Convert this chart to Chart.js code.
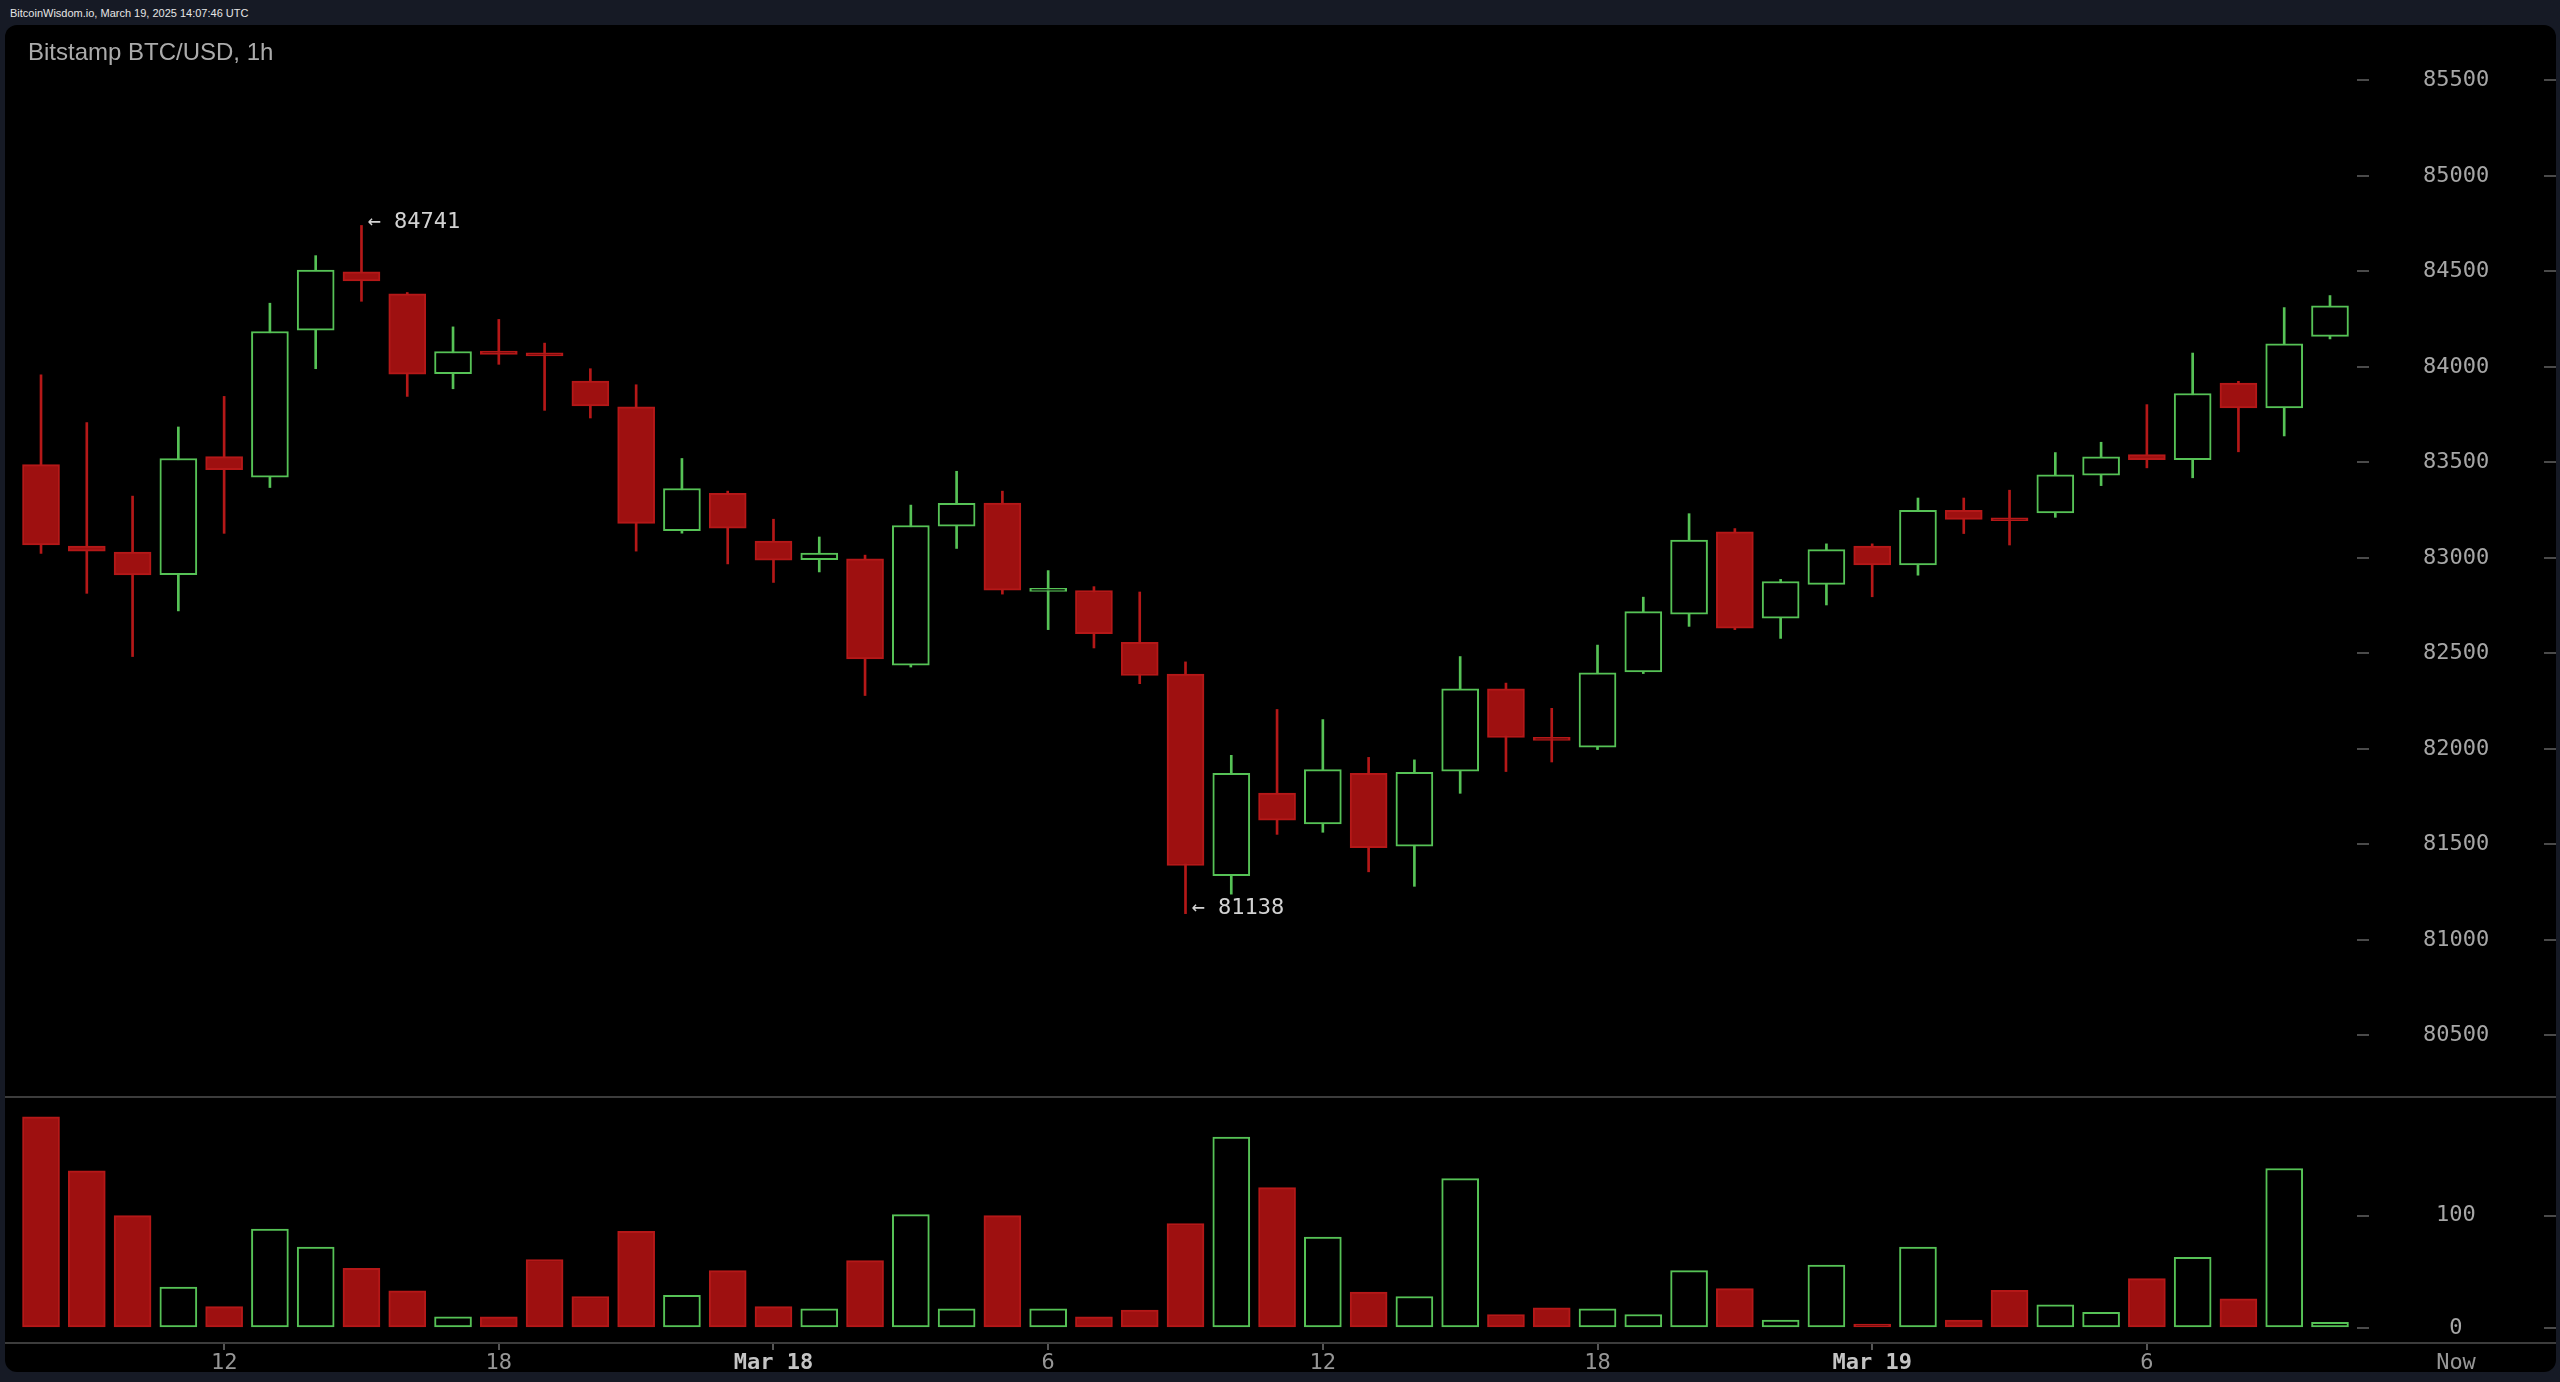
<!DOCTYPE html>
<html>
<head>
<meta charset="utf-8">
<title>Bitstamp BTC/USD, 1h</title>
<script src="https://cdn.jsdelivr.net/npm/chart.js@4/dist/chart.umd.min.js"></script>
<style>
  html, body { margin: 0; padding: 0; background: #161a25; }
  body { width: 2560px; height: 1382px; position: relative; overflow: hidden; }
  #stamp { position: absolute; left: 10px; top: 8px; font: 11px/11px "Liberation Sans", Arial, sans-serif; color: #e6e6e6; }
  #panel { position: absolute; left: 5px; top: 25px; width: 2551px; height: 1347px; background: #000; border-radius: 12px; overflow: hidden; }
  #title { position: absolute; left: 23px; top: 15px; font: 24px/24px "Liberation Sans", Arial, sans-serif; color: #ababab; }
  canvas { position: absolute; left: 0; top: 0; }
</style>
</head>
<body>
<div id="stamp">BitcoinWisdom.io, March 19, 2025 14:07:46 UTC</div>
<div id="panel">
  <canvas id="chart" width="2551" height="1347"></canvas>
  <div id="title">Bitstamp BTC/USD, 1h</div>
</div>
<script>
// hourly candles, index 0 = Mar 17 08:00 ... index 50 = Mar 19 10:00
const opens  = [83489, 83063, 83031, 82913, 83531, 83423, 84193, 84498, 84383, 83965,
                84083, 84064, 83926, 83791, 83143, 83339, 83088, 82991, 82995, 82439,
                83167, 83288, 82825, 82830, 82559, 82392, 81337, 81769, 81608, 81872,
                81491, 81884, 82315, 82060, 82010, 82404, 82706, 83137, 82685, 82862,
                83063, 82964, 83249, 83205, 83236, 83433, 83541, 83515, 83916, 83786,
                84160];
const highs  = [83959, 83709, 83324, 83686, 83846, 84334, 84583, 84741, 84390, 84210,
                84249, 84125, 83991, 83907, 83521, 83350, 83203, 83110, 83015, 83277,
                83454, 83350, 82934, 82850, 82822, 82456, 81967, 82207, 82154, 81956,
                81943, 82484, 82345, 82213, 82544, 82795, 83232, 83154, 82888, 83074,
                83074, 83314, 83314, 83355, 83552, 83606, 83803, 84073, 83925, 84311,
                84374];
const lows   = [83024, 82815, 82484, 82723, 83129, 83369, 83991, 84344, 83846, 83886,
                84014, 83773, 83733, 83036, 83130, 82969, 82872, 82927, 82280, 82429,
                83050, 82811, 82625, 82529, 82342, 81138, 81240, 81553, 81564, 81357,
                81281, 81768, 81882, 81932, 81997, 82395, 82642, 82625, 82579, 82754,
                82797, 82910, 83128, 83068, 83213, 83379, 83472, 83420, 83556, 83639,
                84147];
const closes = [83068, 83036, 82911, 83521, 83463, 84186, 84508, 84451, 83963, 84081,
                84066, 84058, 83796, 83181, 83364, 83156, 82989, 83026, 82471, 83170,
                83286, 82832, 82838, 82604, 82385, 81390, 81872, 81628, 81892, 81483,
                81878, 82315, 82060, 82045, 82399, 82719, 83094, 82633, 82877, 83044,
                82964, 83249, 83202, 83195, 83435, 83530, 83515, 83861, 83786, 84121,
                84320];
const volumes = [188, 140, 100, 36.5, 19, 88, 72, 53, 33, 10,
                 10, 61, 28, 86, 29, 51, 19, 17, 60, 101,
                 17, 100, 17, 10, 16, 93, 170, 125, 81, 32,
                 28, 133, 12, 18, 17, 12, 51, 35, 7, 56,
                 3.5, 72, 7, 33.5, 20.6, 14, 44, 63, 26, 142,
                 5];

const xTickPos  = [4, 10, 16, 22, 28, 34, 40, 46];
const xTickText = ['12', '18', 'Mar 18', '6', '12', '18', 'Mar 19', '6'];
const priceTicks = [80500, 81000, 81500, 82000, 82500, 83000, 83500, 84000, 84500, 85000, 85500];
const volTicks = [0, 100];

const GREEN = '#56c256';
const RED = '#9e1010';
const RED_EDGE = '#b51818';
const MONO = '"DejaVu Sans Mono", monospace';
const AXIS_GRAY = '#a6a6a6';

const up = closes.map((c, i) => c >= opens[i]);
const idx = closes.map((c, i) => i);

const wickData = idx.map(i => ({x: i, y: [lows[i], highs[i]]}));
const bodyData = idx.map(i => ({x: i, y: [opens[i], closes[i]]}));
const volData = idx.map(i => ({x: i, y: volumes[i]}));

const fillCol = up.map(u => u ? '#000000' : RED);
const edgeCol = up.map(u => u ? GREEN : RED_EDGE);
const wickCol = up.map(u => u ? GREEN : RED_EDGE);

// right axes: fixed width, and don't let the big label padding push the plot area in
function fitRightAxis(s) {
    s.width = 199;
    s.paddingTop = 0;
    s.paddingBottom = 0;
}

// lines across the whole panel, right edge dashes, "Now", hi/lo marks
const decor = {
    id: 'decor',
    afterDraw(chart) {
        const {ctx, width} = chart;
        const {x, y, yv} = chart.scales;
        ctx.save();

        ctx.strokeStyle = '#3c3c3c';
        ctx.lineWidth = 2;
        [yv.top, x.top].forEach(py => {
            ctx.beginPath();
            ctx.moveTo(0, py);
            ctx.lineTo(width, py);
            ctx.stroke();
        });

        ctx.strokeStyle = '#4a4a4a';
        [[y, priceTicks], [yv, volTicks]].forEach(([s, vals]) => {
            vals.forEach(v => {
                const py = Math.round(s.getPixelForValue(v));
                ctx.beginPath();
                ctx.moveTo(width - 12, py);
                ctx.lineTo(width, py);
                ctx.stroke();
            });
        });

        ctx.font = '22px ' + MONO;
        ctx.fillStyle = '#969696';
        ctx.textAlign = 'center';
        ctx.textBaseline = 'middle';
        ctx.fillText('Now', y.left + 99, x.top + 7 + 13.2);

        const hi = Math.max(...highs);
        const lo = Math.min(...lows);
        const hiIdx = highs.indexOf(hi);
        const loIdx = lows.indexOf(lo);
        ctx.fillStyle = '#d2d2d2';
        ctx.textAlign = 'left';
        ctx.fillText('\u2190 ' + hi, x.getPixelForValue(hiIdx) + 6, y.getPixelForValue(hi) - 3);
        ctx.fillText('\u2190 ' + lo, x.getPixelForValue(loIdx) + 6, y.getPixelForValue(lo) - 5);
        ctx.restore();
    }
};

new Chart(document.getElementById('chart'), {
    type: 'bar',
    data: {
        datasets: [
            {
                label: 'wick',
                data: wickData,
                yAxisID: 'y',
                backgroundColor: wickCol,
                borderWidth: 0,
                barThickness: 2,
                grouped: false,
                order: 3
            },
            {
                label: 'body',
                data: bodyData,
                yAxisID: 'y',
                backgroundColor: fillCol,
                borderColor: edgeCol,
                borderWidth: 2,
                borderSkipped: false,
                barThickness: 37,
                minBarLength: 3,
                grouped: false,
                order: 2
            },
            {
                label: 'volume',
                data: volData,
                yAxisID: 'yv',
                backgroundColor: fillCol,
                borderColor: edgeCol,
                borderWidth: 2,
                borderSkipped: false,
                barThickness: 37,
                grouped: false,
                order: 1
            }
        ]
    },
    options: {
        responsive: false,
        animation: false,
        devicePixelRatio: 1,
        layout: { padding: { left: 2, top: 15, right: 0, bottom: 0 } },
        plugins: { legend: { display: false }, tooltip: { enabled: false } },
        scales: {
            x: {
                type: 'linear',
                position: 'bottom',
                min: -0.743,
                max: 50.59,
                offset: false,
                grid: { offset: false, drawOnChartArea: false, drawTicks: true, tickLength: 7, color: '#555', lineWidth: 2 },
                border: { display: false },
                afterBuildTicks: s => { s.ticks = xTickPos.map(v => ({value: v})); },
                afterFit: s => { s.height = 29; },
                ticks: {
                    autoSkip: false,
                    maxRotation: 0,
                    padding: 0,
                    callback: (v, i) => xTickText[i],
                    color: c => (c.tick && String(c.tick.label).startsWith('Mar')) ? '#c4c4c4' : '#969696',
                    font: c => ({ family: MONO, size: 22, weight: (c.tick && String(c.tick.label).startsWith('Mar')) ? 'bold' : 'normal' })
                }
            },
            y: {
                type: 'linear',
                position: 'right',
                stack: 'panes',
                stackWeight: 1057,
                min: 80178,
                max: 85712,
                grid: { drawOnChartArea: false, drawTicks: true, tickLength: 12, color: '#4a4a4a', lineWidth: 2 },
                border: { display: false },
                afterBuildTicks: s => { s.ticks = priceTicks.map(v => ({value: v})); },
                afterFit: fitRightAxis,
                ticks: {
                    padding: 54,
                    crossAlign: 'center',
                    color: AXIS_GRAY,
                    font: { family: MONO, size: 22 },
                    callback: v => String(v)
                }
            },
            yv: {
                type: 'linear',
                position: 'right',
                stack: 'panes',
                stackWeight: 246,
                min: -13.4,
                max: 205.7,
                grid: { drawOnChartArea: false, drawTicks: true, tickLength: 12, color: '#4a4a4a', lineWidth: 2 },
                border: { display: false },
                afterBuildTicks: s => { s.ticks = volTicks.map(v => ({value: v})); },
                afterFit: fitRightAxis,
                ticks: {
                    padding: 67,
                    crossAlign: 'center',
                    color: AXIS_GRAY,
                    font: { family: MONO, size: 22 },
                    callback: v => String(v)
                }
            }
        }
    },
    plugins: [decor]
});
</script>
</body>
</html>
